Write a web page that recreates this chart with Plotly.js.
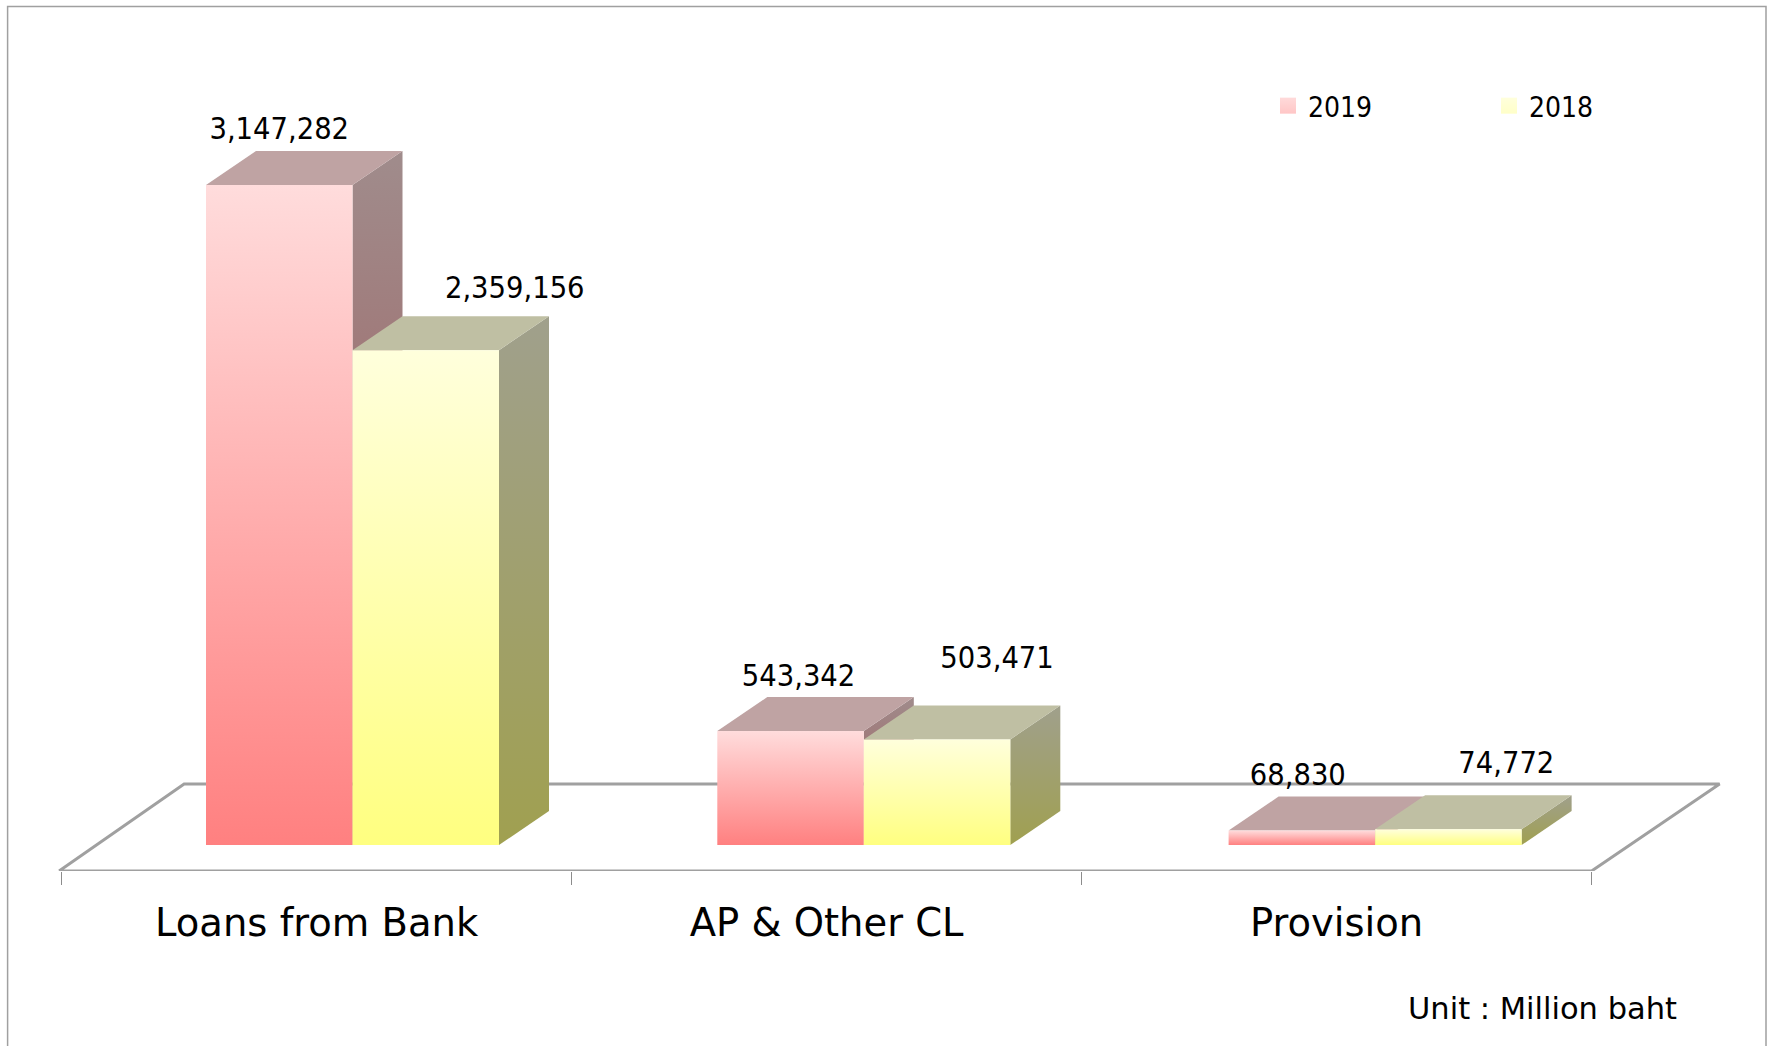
<!DOCTYPE html>
<html>
<head>
<meta charset="utf-8">
<script src="https://cdn.plot.ly/plotly-3.0.1.min.js"></script>
<style>html,body{margin:0;padding:0;background:#fff;overflow:hidden}</style>
</head>
<body>
<div id="chart" style="width:1774px;height:1046px"></div>
<script>
const categories = ["Loans from Bank", "AP & Other CL", "Provision"];
const seriesNames = ["2019", "2018"];
const values2019 = [3147282, 543342, 68830];
const values2018 = [2359156, 503471, 74772];
const unitText = "Unit : Million baht";

// Layout constants (pixels on the page)
const W = 1774, H = 1046, plotBottom = 871.5, baseY = 845.5;
const x0 = 61.6, catW = 510, valPerPx = 4765;
const barOffset = 144.4, barW = 146.5, groupExtra = 1.3;
const depthX = 50, depthY = 34;
const floorBackX = 125, floorBackY = 87, floorLeft = 2.5, floorRightExtra = 3;
const FONT = "'DejaVu Sans Condensed','DejaVu Sans',sans-serif";
const FONT_WIDE = "'DejaVu Sans',sans-serif";

const dx = p => p / catW;
const dy = p => p * valPerPx;

// colours per series: [front top, front bottom, side top, side bottom, top face]
const palette = [
  {ft:"#FFDCDC", fb:"#FF8080", st:"#A08C8C", sb:"#A05050", top:"#BFA3A3", lt:"#FFDADA", lb:"#FFC6C6"},
  {ft:"#FFFFDC", fb:"#FFFF80", st:"#A0A08C", sb:"#A0A050", top:"#BFBFA3", lt:"#FFFFDC", lb:"#FFFFC8"}
];
// hand placed label offsets in pixels from the middle of the front top edge
const labelShift = [
  [[0,-54],[8,-52.6],[-4,-53]],
  [[89,-60],[60,-79],[58,-63.5]]
];

function poly(xs, ys, extra) {
  return Object.assign({
    x: xs, y: ys, type: "scatter", mode: "lines", fill: "toself",
    line: {width: 0}, hoverinfo: "skip", showlegend: false, cliponaxis: false
  }, extra);
}
function grad(top, bottom) {
  return {fillgradient: {type: "vertical", colorscale: [[0, bottom], [1, top]]}};
}

const traces = [];
// floor outline
const n = categories.length;
const yFront = dy(baseY - plotBottom), yBack = dy(baseY - plotBottom + floorBackY);
traces.push({
  x: [-dx(floorLeft), n, n + dx(floorBackX + floorRightExtra), dx(floorBackX) - dx(floorLeft), -dx(floorLeft)],
  y: [yFront, yFront, yBack, yBack, yFront],
  type: "scatter", mode: "lines", line: {color: "#A0A0A0", width: 3},
  hoverinfo: "skip", showlegend: false, cliponaxis: false
});

const allValues = [values2019, values2018];
const lblX = [], lblY = [], lblT = [];
categories.forEach((c, i) => {
  allValues.forEach((vals, s) => {
    const v = vals[i], p = palette[s];
    const xl = i + dx(barOffset + i * groupExtra + s * barW), xr = xl + dx(barW);
    const ox = dx(depthX), oy = dy(depthY);
    // right side
    traces.push(poly([xr, xr + ox, xr + ox, xr, xr], [0, oy, v + oy, v, 0], grad(p.st, p.sb)));
    // top
    traces.push(poly([xl, xr, xr + ox, xl + ox, xl], [v, v, v + oy, v + oy, v], {fillcolor: p.top}));
    // front
    traces.push(poly([xl, xr, xr, xl, xl], [0, 0, v, v, 0], grad(p.ft, p.fb)));
    const sh = labelShift[s][i];
    lblX.push((xl + xr) / 2 + dx(sh[0]));
    lblY.push(v - dy(sh[1]));
    lblT.push(v.toLocaleString("en-US"));
  });
});
// data labels
traces.push({
  x: lblX, y: lblY, text: lblT, type: "scatter", mode: "text", textposition: "middle center",
  textfont: {family: FONT, size: 30.5, color: "#000"}, hoverinfo: "skip", showlegend: false, cliponaxis: false
});
// legend entries
seriesNames.forEach((name, s) => {
  traces.push({
    x: [null], y: [null], name: name, type: "scatter", mode: "markers",
    marker: {symbol: "square", size: 16, color: palette[s].lt, line: {width: 0},
             gradient: {type: "vertical", color: palette[s].lb}},
    hoverinfo: "skip", showlegend: true
  });
});

const layout = {
  width: W, height: H,
  margin: {l: 0, r: 0, t: 0, b: H - plotBottom, pad: 0},
  paper_bgcolor: "#fff", plot_bgcolor: "rgba(0,0,0,0)",
  font: {family: FONT, color: "#000"},
  xaxis: {
    type: "linear", range: [-x0 / catW, (W - x0) / catW], fixedrange: true,
    showgrid: false, zeroline: false, showline: false,
    tickmode: "array", tickvals: categories.map((c, i) => i + 0.5), ticktext: categories,
    ticks: "", tickfont: {family: FONT_WIDE, size: 38.5, color: "#000"}, ticklabelstandoff: 25,
    minor: {tickmode: "array", tickvals: [0, 1, 2, 3], ticks: "outside", ticklen: 13, tickwidth: 1, tickcolor: "#8C8C8C", showgrid: false}
  },
  yaxis: {
    range: [dy(baseY - plotBottom), dy(baseY)], fixedrange: true,
    showgrid: false, zeroline: false, showline: false, showticklabels: false, ticks: ""
  },
  legend: {
    orientation: "h", x: 1268 / W, xanchor: "left", y: 1 - 81 / plotBottom, yanchor: "top",
    font: {family: FONT, size: 28, color: "#000"},
    entrywidth: 176, entrywidthmode: "pixels", itemwidth: 30, bgcolor: "rgba(0,0,0,0)", traceorder: "normal"
  },
  shapes: [{
    type: "path", xref: "paper", yref: "paper",
    path: `M ${7.6 / W} ${1 - H * 1.1 / plotBottom} L ${7.6 / W} ${1 - 6.5 / plotBottom} L ${1766 / W} ${1 - 6.5 / plotBottom} L ${1766 / W} ${1 - H * 1.1 / plotBottom}`,
    line: {color: "#A0A0A0", width: 1.5}
  }],
  annotations: [{
    text: unitText, xref: "paper", yref: "paper", x: 1679 / W, y: 1 - 1009 / plotBottom,
    xanchor: "right", yanchor: "middle", showarrow: false, font: {family: FONT_WIDE, size: 30.5, color: "#000"}
  }]
};
Plotly.newPlot("chart", traces, layout, {displayModeBar: false, staticPlot: true});
</script>
</body>
</html>
